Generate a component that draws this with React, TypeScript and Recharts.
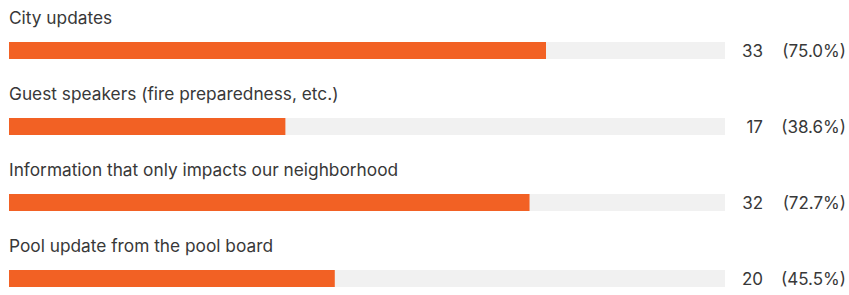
import { BarChart, Bar, XAxis, YAxis, LabelList } from 'recharts';

const categories = [
  'City updates',
  'Guest speakers (fire preparedness, etc.)',
  'Information that only impacts our neighborhood',
  'Pool update from the pool board',
];
const counts = [33, 17, 32, 20];
const percents = [75.0, 38.6, 72.7, 45.5];

const data = categories.map((name, i) => ({ name, count: counts[i], pct: percents[i] }));

const WIDTH = 849;
const HEIGHT = 317;
const MARGIN = { top: 12, right: 124, bottom: 1, left: 9 };
const PLOT_RIGHT = WIDTH - MARGIN.right;
const FONT = 'Inter, "Noto Sans", sans-serif';
const TEXT = '#383838';

const TitleLabel = (props: any) => {
  const { x, y, value } = props;
  return (
    <text x={x} y={y - 18} fill={TEXT} fontSize={17.3} fontFamily={FONT}>
      {value}
    </text>
  );
};

const RightLabel = (props: any) => {
  const { y, height, index } = props;
  const cy = y + height / 2;
  return (
    <g fontSize={17} fontFamily={FONT} fill={TEXT}>
      <text x={PLOT_RIGHT + 38} y={cy} textAnchor="end" dominantBaseline="central">
        {counts[index]}
      </text>
      <text x={PLOT_RIGHT + 121} y={cy} textAnchor="end" dominantBaseline="central">
        ({percents[index].toFixed(1)}%)
      </text>
    </g>
  );
};

export default function App() {
  return (
    <div style={{ width: WIDTH, height: 295, overflow: 'hidden', background: '#fff' }}>
      <style>{`body{margin:0;overflow:hidden}`}</style>
      <BarChart width={WIDTH} height={HEIGHT} data={data} layout="vertical" margin={MARGIN}>
        <XAxis type="number" domain={[0, 100]} hide />
        <YAxis type="category" dataKey="name" hide />
        <Bar
          dataKey="pct"
          fill="#F26124"
          barSize={17}
          background={{ fill: '#F1F1F1' }}
          isAnimationActive={false}
        >
          <LabelList dataKey="name" content={TitleLabel} />
          <LabelList dataKey="count" content={RightLabel} />
        </Bar>
      </BarChart>
    </div>
  );
}
